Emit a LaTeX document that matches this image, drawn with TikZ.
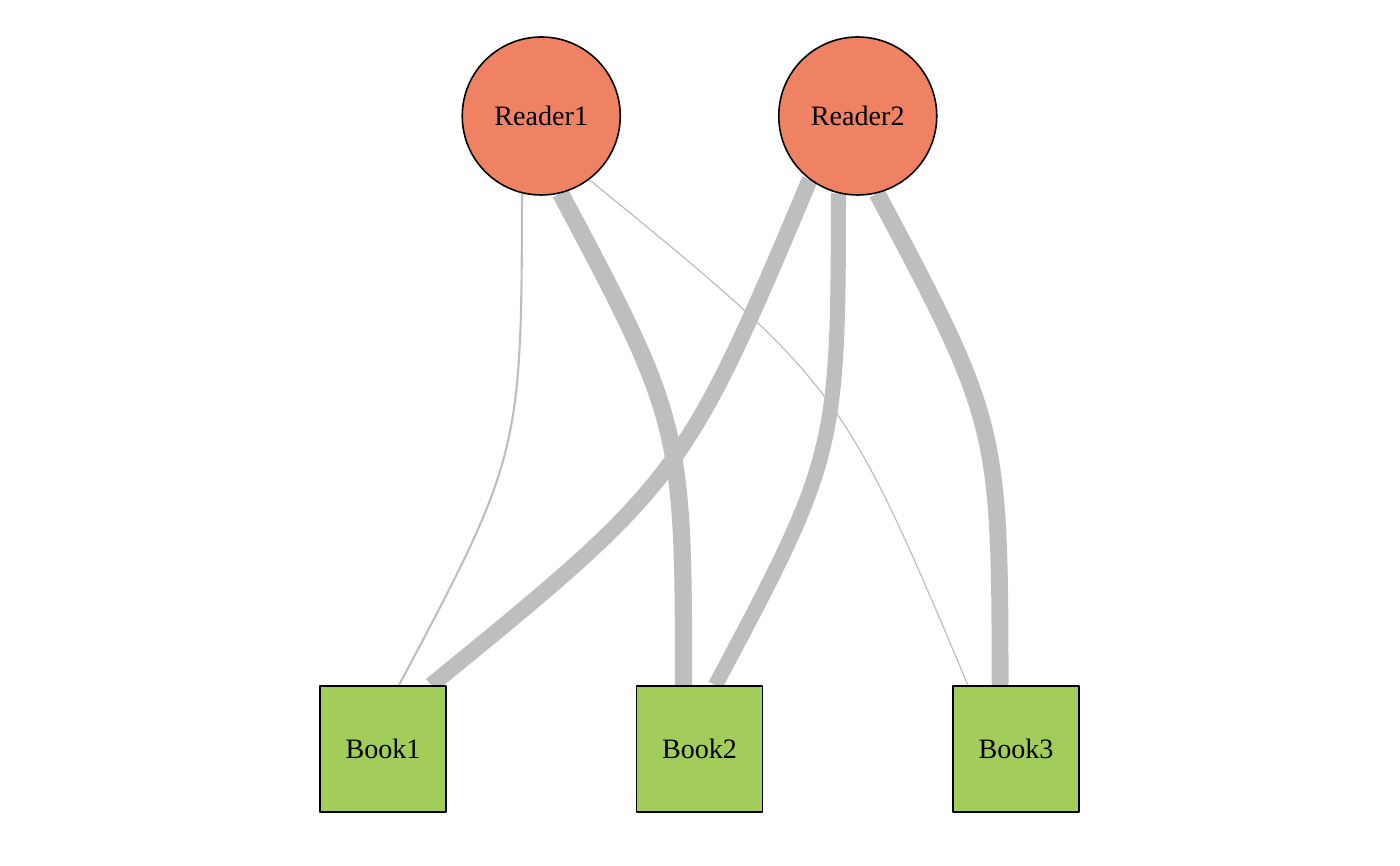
\documentclass[tikz,border=0pt]{standalone}
\usepackage{fontspec}
\setmainfont{Liberation Serif}
\usetikzlibrary{arrows,backgrounds}
\definecolor{readercolor}{HTML}{EE8262}
\definecolor{bookcolor}{HTML}{A2CD5A}
\definecolor{edgecolor}{HTML}{BEBEBE}
\tikzset{
	reader/.style={circle,draw=black,line width=0.45pt,fill=readercolor,minimum size=1.58cm,inner sep=0pt,font=\fontsize{8pt}{9.6pt}\selectfont},
	book/.style={rectangle,draw=black,line width=0.45pt,fill=bookcolor,minimum size=1.26cm,inner sep=0pt,font=\fontsize{8pt}{9.6pt}\selectfont},
	link/.style={draw=edgecolor,bend left=14,looseness=1.3}
}
\begin{document}
\begin{tikzpicture}[line cap=round,line join=round,x=1cm,y=1cm]
		\useasboundingbox (0.,0.) rectangle (14.,8.66);
		\node[reader] (reader1) at (5.4125,7.5) {Reader1};
		\node[reader] (reader2) at (8.5775,7.5) {Reader2};
		\node[book] (book1) at (3.83,1.17) {Book1};
		\node[book] (book2) at (6.995,1.17) {Book2};
		\node[book] (book3) at (10.16,1.17) {Book3};
		\begin{scope}[on background layer]
			\draw [link,line width=0.6pt] (reader1.-104) to (book1.76);
			\draw [link,line width=4.9pt] (reader1.-76) to (book2.104);
			\draw [link,line width=0.35pt] (reader1.-53) to (book3.127);
			\draw [link,line width=4.6pt] (reader2.-127) to (book1.53);
			\draw [link,line width=4.3pt] (reader2.-104) to (book2.76);
			\draw [link,line width=4.8pt] (reader2.-76) to (book3.104);
		\end{scope}
	\end{tikzpicture}
\end{document}
